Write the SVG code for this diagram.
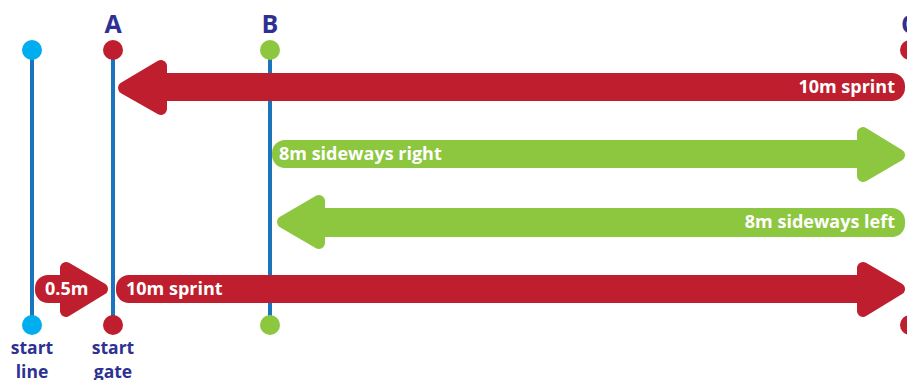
<svg xmlns="http://www.w3.org/2000/svg" width="907" height="380" viewBox="0 0 907 380">
<style>
.pole{stroke:#1b75bc;stroke-width:4}
.red{fill:#be1e2d}
.redh{fill:#be1e2d;stroke:#be1e2d;stroke-width:12;stroke-linejoin:round}
.grn{fill:#8dc63f}
.grnh{fill:#8dc63f;stroke:#8dc63f;stroke-width:12;stroke-linejoin:round}
.lbl{font-family:"Open Sans","Noto Sans","Liberation Sans",sans-serif;font-weight:700;fill:#2e3192}
.big{font-size:25px}
.sm{font-size:17.5px}
.at{font-family:"Open Sans","Noto Sans","Liberation Sans",sans-serif;font-weight:700;font-size:18px;fill:#ffffff}
</style>
<rect width="907" height="380" fill="#ffffff"/>
<g id="start-line">
<line class="pole" x1="32" y1="50" x2="32" y2="325"/>
<circle cx="32" cy="50" r="10" fill="#00aeef"/>
<circle cx="32" cy="325" r="10" fill="#00aeef"/>
<text class="lbl sm" x="32" y="354" text-anchor="middle">start</text>
<text class="lbl sm" x="32" y="378" text-anchor="middle">line</text>
</g>
<g id="gate-A">
<line class="pole" x1="113" y1="50" x2="113" y2="325"/>
<circle cx="113" cy="50" r="10" fill="#be1e2d"/>
<circle cx="113" cy="325" r="10" fill="#be1e2d"/>
<text class="lbl big" x="113" y="33" text-anchor="middle">A</text>
<text class="lbl sm" x="113" y="354" text-anchor="middle">start</text>
<text class="lbl sm" x="113" y="378" text-anchor="middle">gate</text>
</g>
<g id="gate-B">
<line class="pole" x1="270" y1="50" x2="270" y2="325"/>
<circle cx="270" cy="50" r="10" fill="#8dc63f"/>
<circle cx="270" cy="325" r="10" fill="#8dc63f"/>
<text class="lbl big" x="270" y="33" text-anchor="middle">B</text>
</g>
<g id="gate-C">
<line class="pole" x1="910" y1="50" x2="910" y2="325"/>
<circle cx="910" cy="50" r="10" fill="#be1e2d"/>
<circle cx="910" cy="325" r="10" fill="#be1e2d"/>
<text class="lbl big" x="909" y="33" text-anchor="middle">C</text>
</g>
<g id="connectors">
<g id="sprint-back">
<rect class="red" x="150" y="73" width="755" height="28" rx="13"/>
<polygon class="redh" points="124,88 161,66 161,109"/>
<text class="at" x="895" y="93" text-anchor="end">10m sprint</text>
</g>
<g id="sideways-right">
<rect class="grn" x="272" y="140" width="600" height="28" rx="13"/>
<polygon class="grnh" points="899,155 863,133 863,176"/>
<text class="at" x="279" y="160">8m sideways right</text>
</g>
<g id="sideways-left">
<rect class="grn" x="300" y="208" width="605" height="29" rx="13"/>
<polygon class="grnh" points="283,222 319,201 319,243"/>
<text class="at" x="895" y="228" text-anchor="end">8m sideways left</text>
</g>
<g id="half-metre">
<rect class="red" x="35" y="275" width="40" height="28" rx="13"/>
<polygon class="redh" points="102,289 66,268 66,311"/>
<text class="at" x="45" y="295">0.5m</text>
</g>
<g id="sprint-out">
<rect class="red" x="116" y="275" width="756" height="28" rx="13"/>
<polygon class="redh" points="899,289 863,268 863,311"/>
<text class="at" x="126" y="295">10m sprint</text>
</g>
</g>
</svg>
